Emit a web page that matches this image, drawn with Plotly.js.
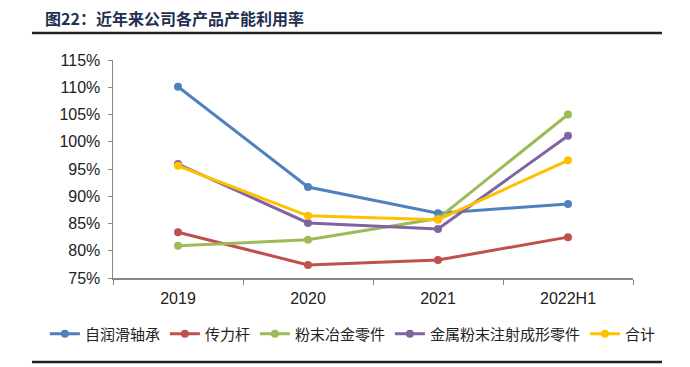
<!DOCTYPE html>
<html>
<head>
<meta charset="utf-8">
<script src="https://cdn.plot.ly/plotly-3.0.1.min.js"></script>
<style>html,body{margin:0;padding:0;background:#fff;}#chart{width:690px;height:367px;}</style>
</head>
<body>
<div id="chart"></div>
<script>
const categories = ["2019", "2020", "2021", "2022H1"];
const seriesNames = ["自润滑轴承", "传力杆", "粉末冶金零件", "金属粉末注射成形零件", "合计"];
const selfLubBearing = [110.1, 91.7, 86.9, 88.6];
const dowelBar = [83.4, 77.4, 78.3, 82.5];
const powderMetallurgy = [80.9, 82.0, 85.9, 105.0];
const mimParts = [95.9, 85.1, 84.0, 101.1];
const totalRate = [95.6, 86.4, 85.7, 96.6];
const yTicks = [75, 80, 85, 90, 95, 100, 105, 110, 115];

const seriesValues = [selfLubBearing, dowelBar, powderMetallurgy, mimParts, totalRate];
const colors = ["#4f81bd", "#c0504d", "#9bbb59", "#8064a2", "#ffc000"];

const traces = seriesValues.map((vals, i) => ({
  type: "scatter",
  mode: "lines+markers",
  x: categories,
  y: vals,
  name: seriesNames[i],
  line: {color: colors[i], width: 3},
  marker: {color: colors[i], size: 8},
  hoverinfo: "none"
}));

const layout = {
  width: 690,
  height: 367,
  margin: {l: 113, r: 57, t: 60, b: 89},
  paper_bgcolor: "#fff",
  plot_bgcolor: "#fff",
  font: {family: "Liberation Sans, Noto Sans CJK SC, sans-serif", color: "#222", size: 16},
  showlegend: true,
  legend: {
    orientation: "h",
    x: -0.131, xanchor: "left",
    y: -0.257, yanchor: "middle",
    font: {family: "Noto Sans CJK SC, sans-serif", size: 15, color: "#222"},
    itemwidth: 30,
    tracegroupgap: 0
  },
  xaxis: {
    type: "category",
    range: [-0.5, 3.5],
    showgrid: false,
    zeroline: false,
    showline: true,
    linecolor: "#888",
    linewidth: 1.5,
    ticks: "outside",
    tickson: "boundaries",
    ticklen: 5,
    tickcolor: "#888",
    ticklabelstandoff: 5,
    tickfont: {size: 16, color: "#222"},
    fixedrange: true
  },
  yaxis: {
    range: [75, 115],
    tickvals: yTicks,
    ticktext: yTicks.map(v => v + "%"),
    showgrid: false,
    zeroline: false,
    showline: true,
    linecolor: "#888",
    linewidth: 1.5,
    ticks: "outside",
    ticklen: 4,
    tickcolor: "#888",
    ticklabelstandoff: 4,
    tickfont: {size: 16, color: "#222"},
    fixedrange: true
  },
  annotations: [{
    text: "<b>图22：近年来公司各产品产能利用率</b>",
    xref: "paper", yref: "paper",
    x: -0.1346, y: 1.1927,
    xanchor: "left", yanchor: "middle",
    showarrow: false,
    font: {family: "Noto Sans CJK SC, sans-serif", size: 16, color: "#1f3050"}
  }],
  shapes: [
    {type: "line", xref: "paper", yref: "paper", x0: -0.1558, x1: 1.0558, y0: 1.1239, y1: 1.1239, line: {color: "#222", width: 2.5}},
    {type: "line", xref: "paper", yref: "paper", x0: -0.1558, x1: 1.0558, y0: -0.385, y1: -0.385, line: {color: "#222", width: 2.5}}
  ]
};

Plotly.newPlot("chart", traces, layout, {displayModeBar: false, staticPlot: true});
</script>
</body>
</html>
